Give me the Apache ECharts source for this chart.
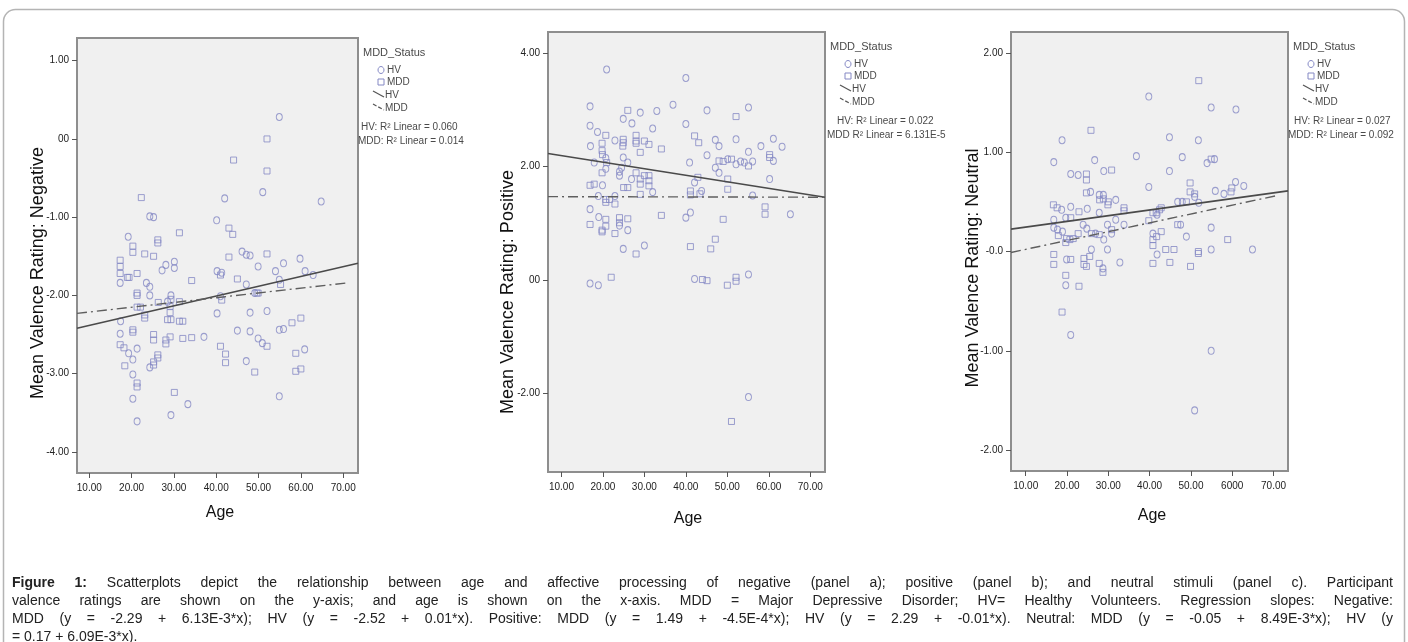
<!DOCTYPE html>
<html>
<head>
<meta charset="utf-8">
<title>Figure 1</title>
<script src="https://cdn.jsdelivr.net/npm/echarts@6/dist/echarts.min.js"></script>
<style>
  html, body { margin: 0; padding: 0; background: #fff; }
  #main { width: 1408px; height: 642px; }
  #caption {
    position: absolute; left: 12px; top: 573px; width: 1381px;
    font-family: "Liberation Sans", Arial, sans-serif; font-size: 14px;
    line-height: 18px; color: #222;
  }
  #caption .j { text-align: justify; text-align-last: justify; }
</style>
</head>
<body>
<div id="main"></div>
<div id="caption">
  <div class="j"><b>Figure 1:</b> Scatterplots depict the relationship between age and affective processing of negative (panel a); positive (panel b); and neutral stimuli (panel c). Participant</div>
  <div class="j">valence ratings are shown on the y-axis; and age is shown on the x-axis. MDD = Major Depressive Disorder; HV= Healthy Volunteers. Regression slopes: Negative:</div>
  <div class="j">MDD (y = -2.29 + 6.13E-3*x); HV (y = -2.52 + 0.01*x). Positive: MDD (y = 1.49 + -4.5E-4*x); HV (y = 2.29 + -0.01*x). Neutral: MDD (y = -0.05 + 8.49E-3*x); HV (y</div>
  <div>= 0.17 + 6.09E-3*x).</div>
</div>
<script>
// ticks / labels
var ageTicks = [10, 20, 30, 40, 50, 60, 70];
var ageLabels = ["10.00", "20.00", "30.00", "40.00", "50.00", "60.00", "70.00"];
var ageLabelsNeu = ["10.00", "20.00", "30.00", "40.00", "50.00", "6000", "70.00"];

var negTicks = [-4, -3, -2, -1, 0, 1];
var negLabels = ["-4.00", "-3.00", "-2.00", "-1.00", "00", "1.00"];
var posTicks = [-2, 0, 2, 4];
var posLabels = ["-2.00", "00", "2.00", "4.00"];
var neuTicks = [-2, -1, 0, 1, 2];
var neuLabels = ["-2.00", "-1.00", "-0.0", "1.00", "2.00"];

// panel a: negative  [age, rating]
var negHV = [[54.9,0.28],[51.0,-0.68],[42.0,-0.76],[64.8,-0.80],[24.3,-0.99],[25.2,-1.0],[40.1,-1.04],[19.2,-1.25],[17.3,-1.84],[28.1,-1.61],[30.1,-1.57],[30.1,-1.65],[27.2,-1.68],[23.5,-1.84],[24.3,-1.89],[24.3,-2.0],[28.5,-2.08],[29.3,-2.0],[17.4,-2.33],[17.3,-2.49],[37.1,-2.53],[19.3,-2.74],[21.3,-2.68],[20.3,-2.82],[24.3,-2.92],[20.3,-3.01],[20.3,-3.32],[33.3,-3.39],[29.3,-3.53],[21.3,-3.61],[40.2,-2.23],[41.0,-2.01],[40.2,-1.69],[41.3,-1.71],[46.1,-1.44],[47.1,-1.48],[48.0,-1.49],[49.9,-1.63],[47.1,-1.86],[49.1,-1.97],[48.0,-2.22],[52.0,-2.2],[45.0,-2.45],[48.0,-2.46],[49.9,-2.55],[50.9,-2.61],[47.1,-2.84],[54.0,-1.69],[54.9,-1.8],[55.9,-1.59],[54.9,-2.44],[55.9,-2.43],[59.8,-1.53],[61.0,-1.69],[62.9,-1.74],[60.9,-2.69],[54.9,-3.29]];
var negMDD = [[52.0,0.0],[52.0,-0.41],[44.1,-0.27],[22.3,-0.75],[31.3,-1.2],[43.0,-1.14],[43.9,-1.22],[20.3,-1.37],[20.3,-1.45],[26.2,-1.29],[26.2,-1.33],[23.1,-1.47],[25.2,-1.5],[17.3,-1.55],[17.3,-1.63],[17.3,-1.72],[19.4,-1.77],[19.0,-1.77],[21.3,-1.72],[34.2,-1.81],[21.3,-1.97],[21.3,-2.0],[26.3,-2.09],[29.3,-2.05],[31.3,-2.08],[29.1,-2.14],[29.1,-2.22],[28.5,-2.31],[29.3,-2.31],[31.3,-2.33],[32.1,-2.33],[21.3,-2.15],[22.1,-2.15],[23.1,-2.25],[23.1,-2.29],[20.3,-2.44],[20.3,-2.47],[25.2,-2.5],[25.2,-2.57],[29.1,-2.53],[28.1,-2.57],[28.1,-2.62],[32.1,-2.55],[34.2,-2.54],[17.3,-2.63],[18.2,-2.67],[18.4,-2.9],[25.2,-2.85],[25.2,-2.89],[26.2,-2.76],[26.2,-2.8],[21.3,-3.12],[21.3,-3.17],[30.1,-3.24],[41.3,-2.06],[41.0,-1.74],[43.0,-1.51],[45.0,-1.79],[52.0,-1.47],[49.6,-1.97],[49.9,-1.97],[52.0,-2.65],[41.0,-2.65],[42.2,-2.75],[42.2,-2.86],[49.1,-2.98],[55.2,-1.86],[57.9,-2.35],[60.0,-2.29],[58.8,-2.74],[58.8,-2.97],[60.0,-2.94]];
var negFitHV = [[7.1,-2.42],[73.5,-1.59]];
var negFitMDD = [[7.1,-2.23],[71.0,-1.84]];

// panel b: positive
var posHV = [[20.9,3.71],[40.0,3.56],[16.9,3.06],[36.9,3.09],[45.1,2.99],[55.1,3.04],[24.9,2.84],[27.0,2.76],[29.0,2.95],[33.0,2.98],[16.9,2.72],[18.7,2.61],[22.9,2.46],[32.0,2.67],[40.0,2.75],[47.1,2.47],[48.0,2.36],[52.1,2.48],[61.1,2.49],[63.2,2.35],[58.1,2.36],[55.1,2.26],[17.0,2.36],[20.7,2.15],[17.9,2.07],[20.7,1.96],[24.9,2.16],[26.0,2.07],[24.0,1.91],[24.5,1.98],[24.0,1.84],[26.9,1.78],[32.0,1.55],[19.9,1.67],[18.9,1.48],[22.9,1.48],[16.9,1.25],[19.0,1.11],[24.0,0.96],[26.0,0.88],[24.9,0.55],[30.0,0.61],[40.0,1.1],[41.1,1.19],[42.1,1.72],[40.9,2.07],[43.8,1.57],[45.1,2.2],[47.1,1.98],[48.0,1.89],[50.1,2.13],[52.1,2.04],[53.2,2.09],[54.1,2.07],[56.1,2.09],[61.1,2.1],[60.2,1.78],[56.1,1.49],[65.2,1.16],[42.1,0.02],[55.1,0.1],[16.9,-0.06],[18.9,-0.09],[55.1,-2.06]];
var posMDD = [[52.1,2.88],[26.0,2.99],[20.7,2.55],[19.8,2.41],[24.9,2.48],[24.9,2.42],[24.8,2.36],[28.0,2.55],[28.0,2.45],[28.0,2.41],[30.0,2.45],[31.1,2.39],[42.1,2.54],[43.1,2.42],[34.1,2.31],[19.8,2.28],[19.9,2.21],[20.9,2.07],[19.8,1.89],[29.0,2.25],[28.0,1.89],[29.0,1.78],[30.0,1.84],[31.1,1.84],[31.1,1.75],[31.1,1.66],[29.0,1.69],[29.0,1.51],[25.0,1.63],[26.0,1.63],[16.9,1.67],[17.9,1.69],[20.7,1.42],[20.7,1.37],[21.6,1.42],[22.9,1.34],[20.7,1.07],[20.7,0.95],[16.9,0.98],[19.8,0.88],[19.8,0.85],[22.9,0.82],[24.0,1.1],[24.0,1.01],[26.0,1.08],[28.0,0.46],[34.1,1.14],[41.1,1.57],[41.1,1.5],[42.9,1.81],[43.4,1.52],[48.0,2.1],[49.0,2.09],[51.0,2.13],[55.1,2.01],[50.1,1.78],[50.1,1.6],[60.2,2.21],[60.2,2.16],[59.1,1.29],[59.1,1.16],[49.0,1.07],[47.1,0.72],[46.0,0.55],[41.1,0.59],[44.0,0.01],[45.1,-0.01],[50.0,-0.09],[52.1,0.05],[52.1,-0.02],[22.0,0.05],[51.0,-2.49]];
var posFitHV = [[6.76,2.23],[73.55,1.46]];
var posFitMDD = [[6.76,1.47],[73.55,1.46]];

// panel c: neutral
var neuHV = [[39.8,1.56],[54.9,1.45],[60.9,1.43],[18.8,1.12],[44.8,1.15],[51.8,1.12],[36.8,0.96],[47.9,0.95],[26.7,0.92],[16.8,0.9],[53.9,0.89],[55.7,0.93],[20.9,0.78],[22.7,0.77],[28.9,0.81],[44.8,0.81],[39.8,0.65],[25.7,0.6],[27.8,0.57],[28.8,0.57],[31.8,0.52],[18.7,0.42],[20.9,0.45],[24.9,0.43],[19.7,0.34],[16.8,0.32],[16.8,0.24],[27.8,0.39],[23.9,0.27],[24.8,0.23],[26.9,0.18],[29.8,0.27],[31.8,0.32],[30.8,0.18],[17.7,0.22],[18.9,0.2],[28.9,0.12],[33.8,0.27],[41.8,0.37],[40.8,0.18],[46.8,0.5],[47.9,0.5],[50.9,0.55],[55.9,0.61],[58.0,0.58],[60.8,0.7],[62.8,0.66],[51.9,0.49],[47.5,0.27],[48.9,0.15],[54.9,0.24],[41.8,-0.03],[29.8,0.02],[32.8,-0.11],[54.9,0.02],[64.9,0.02],[19.9,-0.08],[25.9,0.02],[28.7,-0.17],[19.7,-0.34],[20.9,-0.84],[54.9,-1.0],[50.9,-1.6]];
var neuMDD = [[51.9,1.72],[25.8,1.22],[54.9,0.93],[24.7,0.78],[24.7,0.72],[30.8,0.82],[24.7,0.59],[27.9,0.52],[28.8,0.53],[30.0,0.5],[29.9,0.47],[33.8,0.44],[33.8,0.41],[16.7,0.47],[17.6,0.44],[22.9,0.4],[20.9,0.34],[30.8,0.22],[27.8,0.17],[25.9,0.18],[17.9,0.16],[19.9,0.13],[20.7,0.12],[21.5,0.13],[19.7,0.09],[22.7,0.18],[39.8,0.31],[40.8,0.39],[41.6,0.39],[42.4,0.42],[42.8,0.44],[42.8,0.2],[41.7,0.15],[40.8,0.12],[40.8,0.06],[49.8,0.69],[49.8,0.6],[50.9,0.58],[48.9,0.5],[59.7,0.6],[59.9,0.64],[46.8,0.27],[43.9,0.02],[45.9,0.02],[44.9,-0.11],[40.8,-0.12],[49.9,-0.15],[51.8,0.0],[51.8,-0.02],[58.9,0.12],[16.8,-0.03],[16.8,-0.13],[20.9,-0.08],[24.1,-0.07],[24.1,-0.13],[24.7,-0.15],[25.5,-0.05],[27.8,-0.12],[28.7,-0.21],[19.7,-0.24],[22.9,-0.35],[18.8,-0.61]];
var neuFitHV = [[6.44,0.225],[73.5,0.61]];
var neuFitMDD = [[6.44,-0.01],[70.5,0.56]];

var r2Texts = [
  ["HV: R\u00b2 Linear = 0.060", "MDD: R\u00b2 Linear = 0.014"],
  ["HV: R\u00b2 Linear = 0.022", "MDD R\u00b2 Linear = 6.131E-5"],
  ["HV: R\u00b2 Linear = 0.027", "MDD: R\u00b2 Linear = 0.092"]
];
var yTitles = ["Mean Valence Rating: Negative", "Mean Valence Rating: Positive", "Mean Valence Rating: Neutral"];

var NARROW = '"Liberation Sans Narrow", "Arial Narrow", "Liberation Sans", sans-serif';
var SANS = '"Liberation Sans", Arial, sans-serif';
var POINT = "#8488c4";

var panels = [
  { grid: { left: 77, top: 38, width: 281, height: 435 }, x: [7.1, 73.5], y: [-4.27, 1.29],
    yt: negTicks, yl: negLabels, xl: ageLabels, hv: negHV, mdd: negMDD, fitHV: negFitHV, fitMDD: negFitMDD,
    titleAt: [38, 273], ageAt: [220, 513], leg: [363, 53], r2dx: [-2, -5] },
  { grid: { left: 548, top: 32, width: 277, height: 440 }, x: [6.76, 73.55], y: [-3.38, 4.37],
    yt: posTicks, yl: posLabels, xl: ageLabels, hv: posHV, mdd: posMDD, fitHV: posFitHV, fitMDD: posFitMDD,
    titleAt: [508, 292], ageAt: [688, 519], leg: [830, 47], r2dx: [7, -3] },
  { grid: { left: 1011, top: 32, width: 277, height: 439 }, x: [6.44, 73.5], y: [-2.21, 2.21],
    yt: neuTicks, yl: neuLabels, xl: ageLabelsNeu, hv: neuHV, mdd: neuMDD, fitHV: neuFitHV, fitMDD: neuFitMDD,
    titleAt: [973, 268], ageAt: [1152, 516], leg: [1293, 47], r2dx: [1, -5] }
];

var grids = [], xAxes = [], yAxes = [], series = [], graphics = [];

// outer rounded frame
graphics.push({
  type: "rect", silent: true, z: 0,
  shape: { x: 3.5, y: 9.5, width: 1401, height: 700, r: 12 },
  style: { fill: "none", stroke: "#b4b4b4", lineWidth: 1.5 }
});

panels.forEach(function (p, i) {
  grids.push(Object.assign({ show: true, backgroundColor: "#f0f0f0", borderColor: "#8e8e8e", borderWidth: 2 }, p.grid));

  xAxes.push({
    gridIndex: i, type: "value", min: p.x[0], max: p.x[1],
    axisLine: { show: false, onZero: false }, splitLine: { show: false },
    axisTick: { show: true, customValues: ageTicks, length: 5, lineStyle: { color: "#555" } },
    axisLabel: {
      customValues: ageTicks, margin: 10, fontSize: 10, color: "#222", fontFamily: NARROW,
      formatter: function (v) { return p.xl[ageTicks.indexOf(Math.round(v))]; }
    }
  });

  yAxes.push({
    gridIndex: i, type: "value", min: p.y[0], max: p.y[1],
    axisLine: { show: false, onZero: false }, splitLine: { show: false },
    axisTick: { show: true, customValues: p.yt, length: 5, lineStyle: { color: "#555" } },
    axisLabel: {
      customValues: p.yt, margin: 8, fontSize: 10, color: "#222", fontFamily: NARROW,
      formatter: function (v) { return p.yl[p.yt.indexOf(Math.round(v))]; }
    }
  });

  series.push(
    { type: "scatter", xAxisIndex: i, yAxisIndex: i, data: p.hv, symbol: "circle", symbolSize: [6, 7],
      itemStyle: { color: "rgba(255,255,255,0)", borderColor: POINT, borderWidth: 1 }, z: 3 },
    { type: "scatter", xAxisIndex: i, yAxisIndex: i, data: p.mdd, symbol: "rect", symbolSize: 6,
      itemStyle: { color: "rgba(255,255,255,0)", borderColor: POINT, borderWidth: 1 }, z: 3 },
    { type: "line", xAxisIndex: i, yAxisIndex: i, data: p.fitHV, symbol: "none", silent: true,
      lineStyle: { color: "#4a4a4a", width: 1.6 }, z: 4 },
    { type: "line", xAxisIndex: i, yAxisIndex: i, data: p.fitMDD, symbol: "none", silent: true,
      lineStyle: { color: "#5e5e5e", width: 1.4, type: [10, 4, 2, 4] }, z: 4 }
  );

  // axis titles
  graphics.push({
    type: "text", x: p.titleAt[0], y: p.titleAt[1], rotation: Math.PI / 2,
    style: { text: yTitles[i], font: "18px " + SANS, fill: "#111", align: "center", verticalAlign: "middle" }
  });
  graphics.push({
    type: "text", x: p.ageAt[0], y: p.ageAt[1],
    style: { text: "Age", font: "16px " + NARROW, fill: "#111", align: "center", verticalAlign: "middle" }
  });

  // SPSS style legend block
  var lx = p.leg[0], ly = p.leg[1];
  var lfont = "10px " + NARROW, lcol = "#4a4a4a";
  graphics.push(
    { type: "text", x: lx, y: ly, style: { text: "MDD_Status", font: "11px " + NARROW, fill: lcol, verticalAlign: "middle" } },
    { type: "ellipse", shape: { cx: lx + 18, cy: ly + 17, rx: 3, ry: 3.5 }, style: { fill: "none", stroke: POINT, lineWidth: 1 } },
    { type: "text", x: lx + 24, y: ly + 17, style: { text: "HV", font: lfont, fill: lcol, verticalAlign: "middle" } },
    { type: "rect", shape: { x: lx + 15, y: ly + 26, width: 6, height: 6 }, style: { fill: "none", stroke: POINT, lineWidth: 1 } },
    { type: "text", x: lx + 24, y: ly + 29, style: { text: "MDD", font: lfont, fill: lcol, verticalAlign: "middle" } },
    { type: "line", shape: { x1: lx + 10, y1: ly + 38, x2: lx + 21, y2: ly + 44 }, style: { stroke: "#555", lineWidth: 1.2 } },
    { type: "text", x: lx + 22, y: ly + 42, style: { text: "HV", font: lfont, fill: lcol, verticalAlign: "middle" } },
    { type: "line", shape: { x1: lx + 10, y1: ly + 51, x2: lx + 21, y2: ly + 57 }, style: { stroke: "#555", lineWidth: 1.2, lineDash: [4, 2] } },
    { type: "text", x: lx + 22, y: ly + 55, style: { text: "MDD", font: lfont, fill: lcol, verticalAlign: "middle" } },
    { type: "text", x: lx + p.r2dx[0], y: ly + 74, style: { text: r2Texts[i][0], font: lfont, fill: lcol, verticalAlign: "middle" } },
    { type: "text", x: lx + p.r2dx[1], y: ly + 88, style: { text: r2Texts[i][1], font: lfont, fill: lcol, verticalAlign: "middle" } }
  );
});

var myChart = echarts.init(document.getElementById("main"));
myChart.setOption({
  animation: false,
  grid: grids,
  xAxis: xAxes,
  yAxis: yAxes,
  series: series,
  graphic: graphics
});
</script>
</body>
</html>
